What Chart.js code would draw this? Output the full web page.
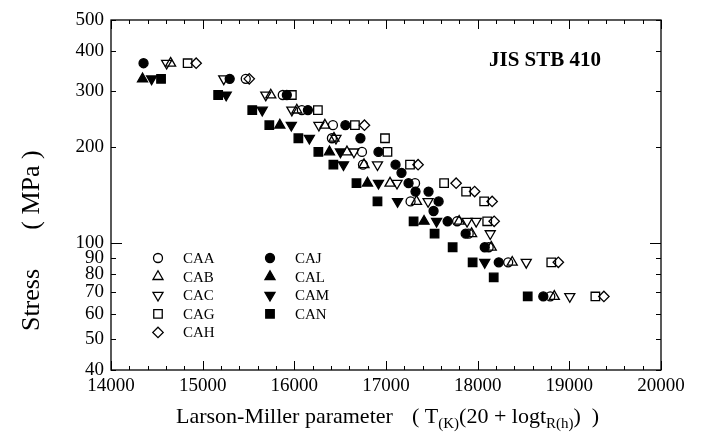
<!DOCTYPE html>
<html>
<head>
<meta charset="utf-8">
<script src="https://cdn.jsdelivr.net/npm/chart.js@4.4.1/dist/chart.umd.min.js"></script>
<style>
  html, body { margin: 0; padding: 0; background: #fff; }
  #wrap { width: 701px; height: 434px; }
</style>
</head>
<body>
<div id="wrap"><canvas id="lmpChart" width="701" height="434"></canvas></div>
<script>
// [Larson-Miller parameter, stress MPa]
const CAA = [[15470,327],[15874,291],[16082,261],[16421,234],[16410,213],[16738,193],[16749,176],[17317,154],[17268,135],[17776,117],[17902,107],[18120,97],[18333,87],[18792,68]];
const CAB = [[14650,366],[15743,291],[16027,261],[16333,234],[16432,213],[16574,193],[16760,176],[17044,154],[17333,135],[17798,117],[17934,107],[18148,97],[18377,87],[18836,68]];
const CAC = [[14607,366],[15230,327],[15689,291],[15973,261],[16268,234],[16454,213],[16650,193],[16907,176],[17120,154],[17459,135],[17885,117],[17984,117],[18137,107],[18530,87],[19005,68]];
const CAG = [[14836,366],[15973,291],[16257,261],[16661,234],[16989,213],[17016,193],[17262,176],[17634,154],[17874,145],[18071,135],[18104,117],[18803,87],[19284,68]];
const CAH = [[14929,366],[15508,327],[16765,234],[17350,176],[17765,154],[17967,145],[18158,135],[18180,117],[18880,87],[19377,68]];
const CAJ = [[14355,366],[15295,327],[15918,291],[16148,261],[16557,234],[16721,213],[16918,193],[17104,176],[17169,166],[17246,154],[17322,145],[17464,145],[17574,135],[17519,126],[17672,117],[17869,107],[18077,97],[18230,87],[18716,68]];
const CAL = [[14344,327],[15842,234],[16383,193],[16798,154],[17415,117]];
const CAM = [[14443,327],[15257,291],[15650,261],[15967,234],[16164,213],[16503,193],[16536,176],[16918,154],[17126,135],[17552,117],[18077,87]];
const CAN = [[14546,327],[15169,291],[15541,261],[15727,234],[16044,213],[16262,193],[16426,176],[16678,154],[16907,135],[17301,117],[17530,107],[17727,97],[17945,87],[18175,78],[18546,68]];

const stressTicks = [40, 50, 60, 70, 80, 90, 100, 200, 300, 400, 500];
const lmpMin = 14000, lmpMax = 20000;

const SERIF = "'Liberation Serif', 'Times New Roman', serif";
Chart.defaults.font.family = SERIF;
Chart.defaults.color = '#000';

const series = [
  { label: 'CAA', data: CAA, style: 'circle',   r: 4.5, rot: 0,   filled: false },
  { label: 'CAB', data: CAB, style: 'triangle', r: 5.8, rot: 0,   filled: false },
  { label: 'CAC', data: CAC, style: 'triangle', r: 5.8, rot: 180, filled: false },
  { label: 'CAG', data: CAG, style: 'rect',     r: 6,   rot: 0,   filled: false },
  { label: 'CAH', data: CAH, style: 'rectRot',  r: 5.2, rot: 0,   filled: false },
  { label: 'CAJ', data: CAJ, style: 'circle',   r: 4.5, rot: 0,   filled: true },
  { label: 'CAL', data: CAL, style: 'triangle', r: 5.8, rot: 0,   filled: true },
  { label: 'CAM', data: CAM, style: 'triangle', r: 5.8, rot: 180, filled: true },
  { label: 'CAN', data: CAN, style: 'rect',     r: 6,   rot: 0,   filled: true }
];

// legend slots inside the plot (column, row)
const legendSlots = [[0,0],[0,1],[0,2],[0,3],[0,4],[1,0],[1,1],[1,2],[1,3]];

function marker(ctx, s, x, y) {
  ctx.save();
  ctx.beginPath();
  const r = s.r;
  if (s.style === 'circle') {
    ctx.arc(x, y, r, 0, Math.PI * 2);
  } else if (s.style === 'triangle') {
    const d = s.rot ? -1 : 1;
    ctx.moveTo(x, y - d * r);
    ctx.lineTo(x + 0.866 * r, y + d * r / 2);
    ctx.lineTo(x - 0.866 * r, y + d * r / 2);
    ctx.closePath();
  } else if (s.style === 'rect') {
    const h = r * Math.SQRT1_2;
    ctx.rect(x - h, y - h, 2 * h, 2 * h);
  } else {
    ctx.moveTo(x - r, y); ctx.lineTo(x, y - r); ctx.lineTo(x + r, y); ctx.lineTo(x, y + r);
    ctx.closePath();
  }
  ctx.fillStyle = s.filled ? '#000' : '#fff';
  ctx.fill();
  ctx.lineWidth = 1.3;
  ctx.strokeStyle = '#000';
  ctx.stroke();
  ctx.restore();
}

const decor = {
  id: 'decor',
  afterDraw(chart) {
    const { ctx, chartArea: a, scales: { x, y } } = chart;
    ctx.save();
    ctx.strokeStyle = '#000';
    ctx.lineWidth = 1.3;
    ctx.strokeRect(a.left, a.top, a.right - a.left, a.bottom - a.top);

    ctx.lineWidth = 1;
    ctx.beginPath();
    for (let v = lmpMin; v <= lmpMax; v += 200) {
      const px = Math.round(x.getPixelForValue(v)) + 0.5;
      const len = v % 1000 === 0 ? 9 : 4;
      ctx.moveTo(px, a.bottom); ctx.lineTo(px, a.bottom - len);
      ctx.moveTo(px, a.top); ctx.lineTo(px, a.top + len);
    }
    stressTicks.forEach(v => {
      const py = Math.round(y.getPixelForValue(v)) + 0.5;
      const len = v === 100 ? 11 : 5;
      ctx.moveTo(a.left, py); ctx.lineTo(a.left + len, py);
      ctx.moveTo(a.right, py); ctx.lineTo(a.right - len, py);
    });
    ctx.stroke();

    // title
    ctx.fillStyle = '#000';
    ctx.font = 'bold 21px ' + SERIF;
    ctx.textBaseline = 'middle';
    ctx.textAlign = 'left';
    ctx.fillText('JIS STB 410', 489, 61);

    // legend
    ctx.font = '15px ' + SERIF;
    series.forEach((s, i) => {
      const [c, r] = legendSlots[i];
      const mx = c ? 270 : 158;
      const my = 258 + r * 18.6;
      marker(ctx, s, mx, my);
      ctx.fillText(s.label, mx + 25, my + 1);
    });

    // x axis title with subscripts
    ctx.textBaseline = 'alphabetic';
    const big = '22px ' + SERIF, small = '15px ' + SERIF;
    const base = 423;
    ctx.font = big;
    ctx.fillText('Larson-Miller parameter', 176, base);
    let cx = 412;
    const parts = [['( T', big, 0], ['(K)', small, 5], ['(20 + logt', big, 0], ['R(h)', small, 5], [')  )', big, 0]];
    parts.forEach(([t, f, dy]) => {
      ctx.font = f;
      ctx.fillText(t, cx, base + dy);
      cx += ctx.measureText(t).width;
    });

    // y axis title
    ctx.save();
    ctx.translate(39, 0);
    ctx.rotate(-Math.PI / 2);
    ctx.font = '26px ' + SERIF;
    ctx.textAlign = 'center';
    ctx.fillText('Stress', -300, 0);
    ctx.fillText('( MPa )', -190, 0);
    ctx.restore();

    ctx.restore();
  }
};

new Chart(document.getElementById('lmpChart'), {
  type: 'scatter',
  data: {
    datasets: series.map(s => ({
      label: s.label,
      data: s.data.map(([lmp, stress]) => ({ x: lmp, y: stress })),
      pointStyle: s.style,
      pointRadius: s.r,
      pointHoverRadius: s.r,
      pointRotation: s.rot,
      backgroundColor: s.filled ? '#000' : 'rgba(0,0,0,0)',
      borderColor: '#000',
      pointBorderWidth: 1.3,
      showLine: false
    }))
  },
  options: {
    responsive: false,
    animation: false,
    layout: { padding: { left: 0, right: 40, top: 20, bottom: 0 } },
    plugins: { legend: { display: false }, tooltip: { enabled: false } },
    scales: {
      x: {
        type: 'linear',
        min: lmpMin,
        max: lmpMax,
        grid: { display: false, drawTicks: false },
        border: { display: false },
        ticks: { stepSize: 1000, padding: 5, font: { size: 19 }, callback: v => String(v) },
        afterFit: s => { s.height = 64; }
      },
      y: {
        type: 'logarithmic',
        min: 40,
        max: 500,
        grid: { display: false, drawTicks: false },
        border: { display: false },
        afterBuildTicks: s => { s.ticks = stressTicks.map(v => ({ value: v })); },
        ticks: { padding: 7, font: { size: 19 }, autoSkip: false, callback: v => String(v) },
        afterFit: s => { s.width = 111; }
      }
    }
  },
  plugins: [decor]
});
</script>
</body>
</html>
